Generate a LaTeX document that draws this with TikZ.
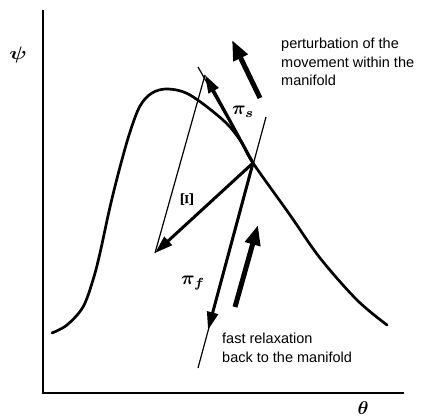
\documentclass[tikz,border=0pt]{standalone}
\usepackage[no-math]{fontspec}
\setmainfont{Liberation Sans}
\usepackage{bm}
\usetikzlibrary{arrows.meta}

\begin{document}
\begin{tikzpicture}[x=1pt, y=1pt,
    axis/.style={line width=1.3pt},
    thinline/.style={line width=1.2pt},
    vec/.style={line width=3pt, -{Triangle[length=18pt, width=11pt]}},
    bigarrow/.style={line width=5pt, -{Triangle[length=20pt, width=15pt]}},
    note/.style={align=left, inner sep=0pt, font=\fontsize{14.5}{18.5}\selectfont},
    greek/.style={inner sep=0pt}]
  \useasboundingbox (0,0) rectangle (431,420);
  % axes
  \coordinate (origin) at (43,27);
  \coordinate (ytop) at (43,410);
  \coordinate (xend) at (404,27);
  \draw[axis] (ytop) -- (origin) -- (xend);
  \node[greek] (psi) at (18,365) {\scalebox{2.2}[1.8]{$\bm{\psi}$}};
  \node[greek] (theta) at (363,12) {\scalebox{1.85}{$\bm{\theta}$}};
  % manifold
  \draw[line width=2.7pt, line cap=round] plot[smooth, tension=0.55] coordinates {(52,87) (67,95) (83,113) (93,140) (100,167) (110,213) (120,253) (130,288) (140,314) (152,327) (168,331) (190,325) (223,300) (240,280) (253,257) (290,205) (320,162) (357,120) (387,95)};
  % point on the manifold and the directions
  \coordinate (cross) at (253,257);
  \coordinate (ttop) at (198,353);
  \coordinate (stip) at (205,345);
  \coordinate (ltop) at (266,303);
  \coordinate (lbot) at (198,52);
  \coordinate (ftip) at (208,90);
  \coordinate (xtip) at (155,167);
  \draw[thinline] (ttop) -- (cross);
  \draw[thinline] (ltop) -- (lbot);
  \draw[thinline] (stip) -- (xtip);
  \draw[vec] (cross) -- (stip);
  \draw[vec] (cross) -- (ftip);
  \draw[vec] (cross) -- (xtip);
  \node[greek] (pis) at (243,308) {\scalebox{1.9}{$\bm{\pi_s}$}};
  \node[greek] (pif) at (193,137) {\scalebox{1.9}{$\bm{\pi_f}$}};
  \node[greek, rotate=90] (xi) at (187,220) {\scalebox{1.8}{$\bm{\Xi}$}};
  % perturbations
  \coordinate (upstart) at (260,322);
  \coordinate (upend) at (232,380);
  \coordinate (lowstart) at (235,113);
  \coordinate (lowend) at (258,195);
  \draw[bigarrow] (upstart) -- (upend);
  \draw[bigarrow] (lowstart) -- (lowend);
  \node[note, anchor=north west] (pert) at (281,382) {perturbation of the\\movement within the\\manifold};
  \node[note, anchor=north west] (relax) at (222,87) {fast relaxation\\back to the manifold};
\end{tikzpicture}
\end{document}
